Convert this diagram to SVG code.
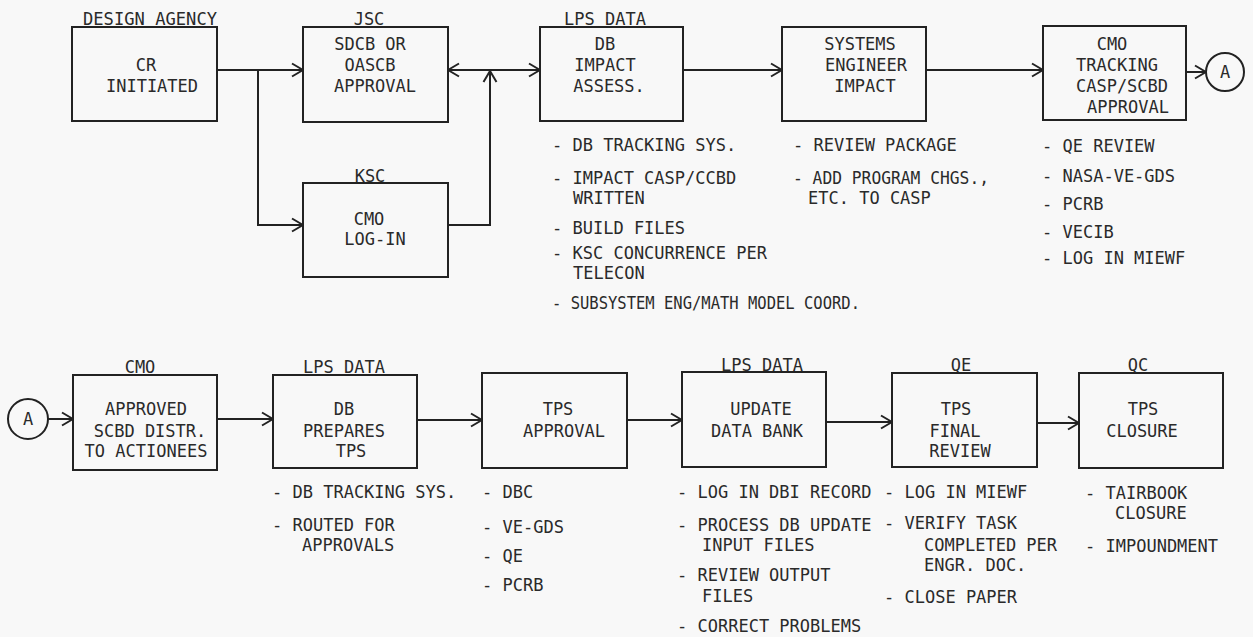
<svg xmlns="http://www.w3.org/2000/svg" width="1253" height="637" viewBox="0 0 1253 637">
<style>
.bx{fill:none;stroke:#222;stroke-width:2}
.ln{fill:none;stroke:#222;stroke-width:2}
text{font-family:"DejaVu Sans Mono","Liberation Mono",monospace;font-size:17px;fill:#2a2a2a}
.c{text-anchor:middle}
</style>
<defs>
<marker id="ah" markerWidth="13" markerHeight="16" refX="12" refY="8" orient="auto-start-reverse" markerUnits="userSpaceOnUse">
<path d="M1,1.5 L12,8 L1,14.5" fill="none" stroke="#222" stroke-width="2"/>
</marker>
</defs>
<rect x="0" y="0" width="1253" height="637" fill="#f8f8f8"/>

<g id="connectors">
<line class="ln" x1="217" y1="70" x2="303" y2="70" marker-end="url(#ah)"/>
<polyline class="ln" points="258,70 258,225 303,225" marker-end="url(#ah)"/>
<polyline class="ln" points="448,225 490,225 490,71" marker-end="url(#ah)"/>
<line class="ln" x1="448" y1="70" x2="540" y2="70" marker-start="url(#ah)" marker-end="url(#ah)"/>
<line class="ln" x1="683" y1="70" x2="782" y2="70" marker-end="url(#ah)"/>
<line class="ln" x1="926" y1="70" x2="1043" y2="70" marker-end="url(#ah)"/>
<line class="ln" x1="1186" y1="72" x2="1206" y2="72" marker-end="url(#ah)"/>
<line class="ln" x1="48" y1="419" x2="73" y2="419" marker-end="url(#ah)"/>
<line class="ln" x1="217" y1="419" x2="273" y2="419" marker-end="url(#ah)"/>
<line class="ln" x1="417" y1="420" x2="482" y2="420" marker-end="url(#ah)"/>
<line class="ln" x1="627" y1="420" x2="682" y2="420" marker-end="url(#ah)"/>
<line class="ln" x1="826" y1="422" x2="892" y2="422" marker-end="url(#ah)"/>
<line class="ln" x1="1037" y1="423" x2="1079" y2="423" marker-end="url(#ah)"/>
</g>

<g id="n-cr">
<rect class="bx" x="72" y="27" width="145" height="94"/>
<text class="c" x="150" y="25" textLength="134" lengthAdjust="spacingAndGlyphs">DESIGN AGENCY</text>
<text class="c" x="146" y="71">CR</text>
<text class="c" x="152" y="92">INITIATED</text>
</g>

<g id="n-jsc">
<rect class="bx" x="303" y="27" width="145" height="95"/>
<text class="c" x="369" y="25">JSC</text>
<text class="c" x="370" y="50">SDCB OR</text>
<text class="c" x="370" y="71">OASCB</text>
<text class="c" x="375" y="92">APPROVAL</text>
</g>

<g id="n-ksc">
<rect class="bx" x="303" y="183" width="145" height="94"/>
<text class="c" x="370" y="182">KSC</text>
<text class="c" x="369" y="225">CMO</text>
<text class="c" x="375" y="245">LOG-IN</text>
</g>

<g id="n-db-impact">
<rect class="bx" x="540" y="27" width="143" height="94"/>
<text class="c" x="605" y="25">LPS DATA</text>
<text class="c" x="605" y="50">DB</text>
<text class="c" x="605" y="71">IMPACT</text>
<text class="c" x="609" y="92">ASSESS.</text>
<text x="552" y="151">- DB TRACKING SYS.</text>
<text x="552" y="184">- IMPACT CASP/CCBD</text>
<text x="573" y="204">WRITTEN</text>
<text x="552" y="234">- BUILD FILES</text>
<text x="552" y="259">- KSC CONCURRENCE PER</text>
<text x="573" y="279">TELECON</text>
<text x="552" y="309" textLength="308" lengthAdjust="spacingAndGlyphs">- SUBSYSTEM ENG/MATH MODEL COORD.</text>
</g>

<g id="n-sys">
<rect class="bx" x="782" y="27" width="144" height="94"/>
<text class="c" x="860" y="50">SYSTEMS</text>
<text class="c" x="866" y="71">ENGINEER</text>
<text class="c" x="865" y="92">IMPACT</text>
<text x="793" y="151">- REVIEW PACKAGE</text>
<text x="793" y="184" textLength="196" lengthAdjust="spacingAndGlyphs">- ADD PROGRAM CHGS.,</text>
<text x="808" y="204">ETC. TO CASP</text>
</g>

<g id="n-cmo-tracking">
<rect class="bx" x="1043" y="26" width="143" height="94"/>
<text class="c" x="1112" y="50">CMO</text>
<text class="c" x="1117" y="71">TRACKING</text>
<text class="c" x="1122" y="92">CASP/SCBD</text>
<text class="c" x="1128" y="113">APPROVAL</text>
<text x="1042" y="152">- QE REVIEW</text>
<text x="1042" y="182">- NASA-VE-GDS</text>
<text x="1042" y="210">- PCRB</text>
<text x="1042" y="238">- VECIB</text>
<text x="1042" y="264">- LOG IN MIEWF</text>
</g>

<g id="n-a-top">
<circle class="bx" cx="1225" cy="72" r="19"/>
<text class="c" x="1225" y="78">A</text>
</g>

<g id="n-a-bottom">
<circle class="bx" cx="28" cy="419" r="20"/>
<text class="c" x="28" y="425">A</text>
</g>

<g id="n-approved">
<rect class="bx" x="73" y="375" width="144" height="95"/>
<text class="c" x="140" y="373">CMO</text>
<text class="c" x="146" y="415">APPROVED</text>
<text class="c" x="150" y="437">SCBD DISTR.</text>
<text class="c" x="146" y="457">TO ACTIONEES</text>
</g>

<g id="n-prepares">
<rect class="bx" x="273" y="375" width="144" height="93"/>
<text class="c" x="344" y="373">LPS DATA</text>
<text class="c" x="344" y="415">DB</text>
<text class="c" x="344" y="437">PREPARES</text>
<text class="c" x="351" y="457">TPS</text>
<text x="272" y="498">- DB TRACKING SYS.</text>
<text x="272" y="531">- ROUTED FOR</text>
<text x="302" y="551">APPROVALS</text>
</g>

<g id="n-tps-approval">
<rect class="bx" x="482" y="373" width="145" height="95"/>
<text class="c" x="558" y="415">TPS</text>
<text class="c" x="564" y="437">APPROVAL</text>
<text x="482" y="498">- DBC</text>
<text x="482" y="533">- VE-GDS</text>
<text x="482" y="562">- QE</text>
<text x="482" y="591">- PCRB</text>
</g>

<g id="n-update">
<rect class="bx" x="682" y="372" width="144" height="95"/>
<text class="c" x="762" y="371">LPS DATA</text>
<text class="c" x="761" y="415">UPDATE</text>
<text class="c" x="757" y="437">DATA BANK</text>
<text x="677" y="498">- LOG IN DBI RECORD</text>
<text x="677" y="531">- PROCESS DB UPDATE</text>
<text x="702" y="551">INPUT FILES</text>
<text x="677" y="581">- REVIEW OUTPUT</text>
<text x="702" y="602">FILES</text>
<text x="677" y="632">- CORRECT PROBLEMS</text>
</g>

<g id="n-final-review">
<rect class="bx" x="892" y="373" width="145" height="94"/>
<text class="c" x="961" y="371">QE</text>
<text class="c" x="956" y="415">TPS</text>
<text class="c" x="955" y="437">FINAL</text>
<text class="c" x="960" y="457">REVIEW</text>
<text x="884" y="498">- LOG IN MIEWF</text>
<text x="884" y="529">- VERIFY TASK</text>
<text x="924" y="551">COMPLETED PER</text>
<text x="924" y="571">ENGR. DOC.</text>
<text x="884" y="603">- CLOSE PAPER</text>
</g>

<g id="n-closure">
<rect class="bx" x="1079" y="373" width="144" height="95"/>
<text class="c" x="1138" y="371">QC</text>
<text class="c" x="1143" y="415">TPS</text>
<text class="c" x="1142" y="437">CLOSURE</text>
<text x="1085" y="499">- TAIRBOOK</text>
<text x="1115" y="519">CLOSURE</text>
<text x="1085" y="552">- IMPOUNDMENT</text>
</g>
</svg>
